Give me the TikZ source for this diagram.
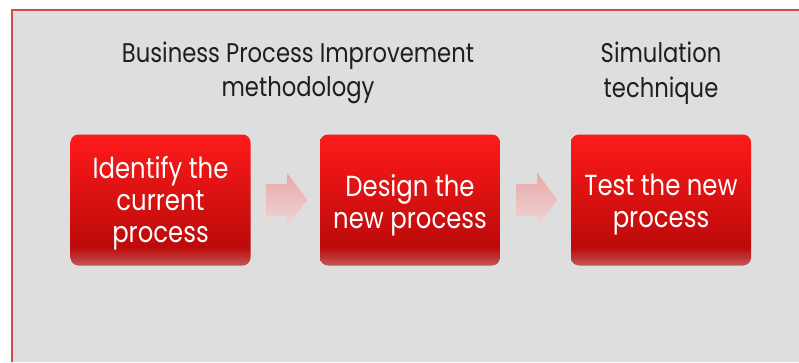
\documentclass[tikz,border=0pt]{standalone}
\usepackage{fontspec}
\setmainfont[FakeStretch=0.84]{Poppins}
\usetikzlibrary{calc}
\definecolor{panel}{HTML}{DEDEDE}
\definecolor{frame}{HTML}{D24A4A}
\definecolor{rtop}{HTML}{FF1A1A}
\definecolor{rdark}{HTML}{BC0A0A}
\definecolor{rlow}{HTML}{C25858}
\definecolor{arrowA}{HTML}{E6A9A9}
\definecolor{arrowB}{HTML}{F0D6D6}
\definecolor{ink}{HTML}{1E1E1E}
\pgfdeclareverticalshading{redbox}{100bp}{color(0bp)=(rlow); color(25bp)=(rlow); color(28bp)=(rlow!55!rdark); color(32bp)=(rdark); color(75bp)=(rtop); color(100bp)=(rtop)}
\tikzset{
  stepbox/.style={rounded corners=8pt, shading=redbox, minimum width=180pt,
    minimum height=131pt, inner sep=0pt},
  steptext/.style={text=white, align=center, inner sep=0pt,
    font=\fontsize{29}{32}\selectfont},
  toplabel/.style={text=ink, align=center, inner sep=0pt,
    font=\fontsize{27}{34.5}\selectfont},
  blockarrow/.style={top color=arrowA, bottom color=arrowB, draw=none}
}
\begin{document}
\begin{tikzpicture}[x=1pt,y=-1pt]
\useasboundingbox (0,0) rectangle (799,362);
\fill[white] (0,0) rectangle (799,362);
\fill[panel] (12,10) rectangle (799,362);
\draw[frame, line width=1.2pt] (12,362) -- (12,10) -- (799,10);

\node[stepbox] (b1) at (160.5,200) {};
\node[stepbox] (b2) at (410,200) {};
\node[stepbox] (b3) at (661,200) {};
\node[steptext] (l1) at ($(b1.center)+(0,3.5)$) {Identify the\\current\\process};
\node[steptext] (l2) at ($(b2.center)+(0,5)$) {Design the\\new process};
\node[steptext] (l3) at ($(b3.center)+(0,5)$) {Test the new\\process};

\node[toplabel] (t1) at (298,73) {Business Process Improvement\\methodology};
\node[toplabel] (t2) at (661,73) {Simulation\\technique};

\shade[blockarrow] ($(b1.east)+(15.5,-16)$) -- ++(21,0) -- ++(0,-11) -- ++(20,27) -- ++(-20,27) -- ++(0,-11) -- ++(-21,0) -- cycle;
\shade[blockarrow] ($(b2.east)+(16,-16)$) -- ++(21,0) -- ++(0,-11) -- ++(20,27) -- ++(-20,27) -- ++(0,-11) -- ++(-21,0) -- cycle;
\end{tikzpicture}
\end{document}
